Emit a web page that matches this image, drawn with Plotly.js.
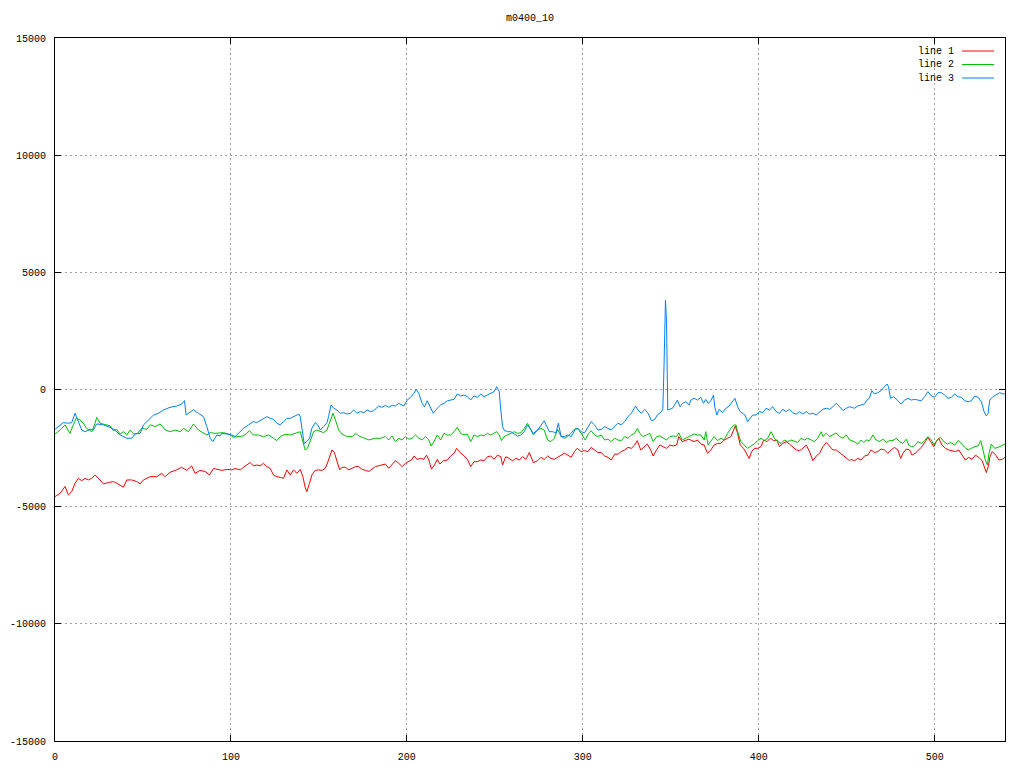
<!DOCTYPE html>
<html>
<head>
<meta charset="utf-8">
<script src="https://cdn.plot.ly/plotly-3.0.1.min.js"></script>
<style>html,body{margin:0;padding:0;background:#fff;}#chart{width:1024px;height:768px;}</style>
</head>
<body>
<div id="chart"></div>
<script>
const chartTitle = "m0400_10";
const seriesNames = ["line 1", "line 2", "line 3"];
const seriesColors = ["#ff0000", "#00c000", "#0080ff"];

const line1X = [0,2.9,5.7,7.6,9.5,11.4,13.3,15.2,17.1,19,20.9,22.8,25.6,27.5,30.4,33.2,35.1,37,38.9,40.8,43.6,46.5,48.4,50.3,54.1,57.8,60.7,62.6,65.4,69.2,72,74.9,77.7,79.6,82.5,85.4,87.8,90.1,92,94.8,97.7,100.5,102.4,105.3,107.1,109,110.9,112.8,114.7,116.6,118.5,120.4,122.3,124.2,126.1,128,129.9,131.8,133.7,135.6,137.5,139.4,140.9,142.2,143.1,144.7,146,147.9,149.8,151.7,153.6,155.5,157.4,158.8,160.3,161.8,163.2,165.1,167,168.9,170.8,172.7,174.6,176.5,178.4,182.1,185,187.8,189.7,191.6,193.5,195.4,197.3,199.2,201.1,203,204,205.9,207.8,209.7,211.2,212.5,214,215.7,217.3,218.8,220.7,223,224.9,226.8,228.3,230.2,232.1,234.4,236.3,238.2,240.1,242,243.9,245.8,247.7,249.6,251.5,253.4,254.4,256.2,258.1,260.1,262,263.9,265.8,267.7,269.6,271.9,274.3,276.2,278.1,280,281.9,283.8,285.7,287.7,289.6,291.5,293.4,295.3,296.8,299.1,301,302.9,304.8,306.7,308.6,310.5,312.4,314.3,316.2,318.1,320,321.9,323.8,325.7,327.6,329.5,331,332.9,334.8,336.7,338.6,340,341.9,343.8,345.7,347.6,349.5,351.4,353.3,354.6,356.5,358.4,360.3,363.3,365.2,367.1,369,370.9,372.8,374.7,376.6,378.5,380.4,382.3,384.2,385.7,386.7,388,389.5,391.4,393.3,394.6,396,397.5,399.4,401.3,402.8,404.7,406.6,408.5,410.4,411.8,413.7,415.6,417.5,419.4,421.3,423.2,425.1,427,428.9,430.8,432.7,434.6,436.5,438.4,440.3,442.2,444.1,446,447.9,449.8,451.7,452.5,454.4,456.3,458.2,460.1,462,463.9,465.8,467.7,469.6,471.5,473.4,475.3,477.2,479.1,480.7,482,483.9,485.8,487.1,489,490.9,492.8,494.7,496.2,497.7,499.6,500.9,502.3,504.2,506.1,508,509.9,511.8,513.7,515.6,517.5,519.4,521.3,523.2,525.1,527,528.2,529.4,530.5,531.5,532.8,534.7,536.6,538.5,540];
const line1Y = [-4570,-4430,-4140,-4500,-4360,-4000,-3790,-3890,-3790,-3860,-3790,-3650,-3860,-4030,-3970,-3930,-4000,-4070,-4170,-3860,-3860,-3930,-4030,-3860,-3720,-3720,-3580,-3720,-3530,-3430,-3320,-3450,-3260,-3580,-3450,-3500,-3650,-3370,-3410,-3450,-3410,-3430,-3370,-3430,-3320,-3220,-3120,-3260,-3220,-3260,-3150,-3290,-3370,-3650,-3720,-3750,-3790,-3430,-3650,-3430,-3580,-3410,-3720,-4170,-4360,-4000,-3650,-3450,-3430,-3450,-3370,-3010,-2580,-2690,-3080,-3430,-3320,-3320,-3430,-3370,-3290,-3290,-3410,-3450,-3500,-3290,-3220,-3180,-3360,-3180,-3040,-3150,-3290,-3150,-3080,-2980,-2840,-2980,-2940,-2980,-2800,-3010,-3400,-3220,-2980,-3180,-3040,-3010,-2840,-2720,-2510,-2690,-2800,-2980,-3290,-3080,-3080,-3010,-3040,-2870,-2840,-2980,-2800,-2870,-3220,-2870,-2940,-3040,-2940,-3010,-2870,-2980,-2690,-3120,-3040,-2895,-2980,-2840,-2940,-2980,-2895,-2800,-2720,-2800,-2895,-2650,-2510,-2650,-2610,-2650,-2470,-2580,-2690,-2690,-2840,-2895,-3010,-2760,-2760,-2650,-2580,-2470,-2510,-2370,-2180,-2580,-2440,-2330,-2580,-2840,-2580,-2370,-2440,-2510,-2370,-2410,-2370,-2010,-2225,-2180,-2120,-2225,-2155,-2330,-2370,-2720,-2580,-2370,-2300,-2300,-2155,-2080,-2010,-1730,-1560,-1870,-2370,-2510,-2795,-2940,-2650,-2510,-2510,-2440,-2155,-2225,-2080,-2180,-2155,-2440,-2300,-2225,-2330,-2440,-2580,-2610,-2510,-2370,-2650,-3040,-2840,-2720,-2440,-2260,-2440,-2580,-2580,-2690,-2800,-2895,-3040,-2980,-3040,-2940,-3010,-2840,-2800,-2580,-2690,-2650,-2540,-2580,-2720,-2580,-2470,-2580,-2940,-2720,-2540,-2580,-2800,-2720,-2580,-2440,-2225,-2040,-2225,-2440,-2225,-2080,-2370,-2510,-2580,-2610,-2650,-2580,-2800,-3010,-2895,-2980,-2800,-2895,-3040,-3290,-3545,-3290,-2840,-2650,-2800,-3010,-2980,-2895];

const line2X = [0,2.9,5.7,8.5,10.4,12,14.2,16.1,18,20.9,22.8,23.7,25.6,28.5,31.3,33.2,35.1,37,38.9,40.8,42.7,44.6,46.9,49.3,52.2,54.1,57,59.8,62.7,65.5,68.3,71.2,73,75.9,78.7,81.5,84.4,86.3,88.2,91,95.8,98.6,101.5,104.3,107.1,109,110.5,112.8,115.6,118.5,121.4,124.2,126.1,128,130.8,133.7,136.5,139.4,140.9,142.2,143.5,145.1,147,148.8,150.8,152.7,154.6,156.5,158,159.4,161.3,163.2,165.1,167,168.9,170.8,172.7,174.6,176.5,178.4,182.1,185,187.8,189.7,191.6,193.5,195.4,197.3,199.2,201.1,203,204.9,206.8,208.7,210.6,212.5,213.8,215.4,217.3,219.2,221.1,223,224.9,226.8,228.7,230.6,232.5,234.4,236.3,238.2,240.1,242,243.9,245.8,247.7,249.6,251.1,252.5,253.8,255.3,257.2,259.1,261,262.9,264.8,266.7,268.6,271.9,274.3,276.2,278.1,280,281.9,283.8,285.7,287.7,289.6,291.9,293.8,295.7,297.6,299.5,301.4,303.3,304.8,306.7,308.6,310.5,312.4,314.3,316.2,318.1,320,321.9,323.8,325.7,327.6,329.5,331,332.4,334.3,336.2,338.1,340,341.9,343.8,345.7,347.6,349.5,351.4,353.3,354.6,356.5,358.4,360.3,363.3,365.2,367.1,369,369.9,371.2,372.8,374.7,376.6,378.5,380.4,382.3,384.2,386.1,387.1,388,389.9,391.8,393.7,395.6,397.5,399.4,401.3,403.2,405.1,407,408.9,410.8,412.7,414.6,416.5,418.4,420.3,422.2,424.1,426,427.9,429.8,431.7,433.6,435.5,436.5,438.4,440.3,442.2,444.1,446,447.9,449.8,451.7,454.4,456.3,458.2,459.7,461.1,463,464.9,466.8,468.7,470.6,472.5,474.4,476.3,478.2,480.1,482,483.9,485.3,486.7,488.6,490.5,492.4,494.3,496.2,498.1,499.6,501.5,503.4,505.3,507.2,509.1,511.4,513.3,515.2,517.1,519,520.9,522.8,524.7,526.2,527.5,528.8,530,530.9,532.2,534.1,536,537.9,540];
const line2Y = [-1900,-1730,-1510,-1870,-1510,-1230,-1300,-1440,-1660,-1800,-1440,-1190,-1440,-1510,-1550,-1760,-1700,-1900,-1800,-1940,-1730,-1900,-1870,-1660,-1700,-1510,-1580,-1470,-1730,-1800,-1730,-1800,-1660,-1800,-1470,-1730,-1870,-1940,-1840,-1870,-1840,-1900,-2040,-2010,-1980,-1870,-1760,-1940,-1940,-2010,-1940,-2080,-2180,-2010,-1910,-1940,-1870,-1800,-2225,-2580,-2510,-2150,-1800,-1730,-1800,-1840,-1730,-1370,-1015,-1300,-1730,-1900,-1980,-2010,-2010,-1870,-1980,-2040,-2080,-2150,-2080,-2080,-2010,-2155,-1980,-2225,-2080,-2155,-2010,-2120,-2080,-1940,-2080,-2155,-2010,-2155,-2410,-2225,-1940,-2155,-1870,-1940,-1940,-1800,-1615,-1870,-1940,-1900,-2225,-1940,-2010,-1940,-1980,-1870,-1940,-1850,-1800,-1940,-2180,-2010,-1940,-1900,-1800,-1870,-1850,-1660,-1440,-1940,-1730,-1660,-1730,-2155,-2225,-2080,-1700,-2010,-2080,-1980,-1800,-1660,-1700,-1940,-2155,-1870,-1760,-1940,-2010,-1940,-2155,-2120,-2225,-2080,-2155,-2180,-2010,-2080,-1940,-1870,-1660,-1870,-2010,-1940,-1870,-2225,-2010,-1980,-2080,-2155,-2010,-1980,-2010,-1850,-2155,-2080,-2010,-1900,-1940,-1940,-2155,-1800,-2370,-2225,-2010,-2180,-2080,-2155,-1870,-1660,-1510,-1510,-1800,-2225,-2370,-2510,-2410,-2330,-2180,-2080,-2180,-2080,-1800,-2080,-2225,-2300,-2155,-2225,-2155,-2225,-2260,-2080,-2155,-2080,-2155,-2225,-2080,-1800,-2010,-1870,-2010,-1940,-1850,-2010,-2080,-1940,-2155,-2225,-2330,-2155,-2260,-2155,-2180,-1940,-2155,-2225,-2120,-2260,-2180,-2180,-2080,-2225,-2300,-2120,-2370,-2440,-2410,-2225,-2300,-2180,-2010,-2155,-2370,-2155,-2040,-2225,-2330,-2260,-2370,-2180,-2300,-2470,-2580,-2510,-2440,-2410,-2180,-2580,-3010,-3220,-2720,-2330,-2510,-2470,-2410,-2330];

const line3X = [0,4.7,7.6,9.5,11.4,13.3,15.2,17.1,20,21.8,23.7,27.5,31.3,34.1,37,40.8,43.6,45.5,48.4,50.3,53.1,56,58.8,61.7,65.4,69.2,72,73.6,74.5,76.8,78.7,81.5,84.4,86.3,88.2,89.7,92,93.9,94.8,97.7,100.5,102.4,104.3,107.1,110,112.8,114.7,116.6,118.5,120.4,122.3,124.2,126.1,128,129.9,131.8,133.7,135.6,137.1,138.6,139.4,140.3,141.6,143.1,144.7,146,147.9,149.3,150.8,152.7,154.6,155.5,156.9,158.4,160.3,162.2,164.1,166,167.9,169.8,171.7,173.6,175.5,177.4,179.3,181.2,182.1,184,185.9,187.8,189.7,191.6,193.5,195.4,198.3,200.2,202.1,204,205.3,206.8,208.7,210,211.6,213.1,215,217.3,219.2,221.1,223,224.9,226.8,228.7,230.6,232.5,234.4,236.3,238.2,240.1,242,243.9,245.8,247.7,249.6,251.1,252.5,253.4,254.4,255.3,257.2,259.1,261,262.9,264.8,266.7,268.6,270.5,271.9,274.3,276.2,278.1,279.1,281,282.9,284.8,286.1,287.7,289.6,291.5,293.4,295.7,297.2,299.1,301,302.9,304.8,306.7,308.6,310.5,312.4,314.3,316.2,318.1,320,321.9,323.8,325.7,327.6,330,331.4,333.3,335.2,337.1,339,340.6,342.4,344.7,345.5,346.2,347,347.6,348.3,351,352.9,353.8,355.3,356.7,358.6,360.5,361.4,363.3,365.2,367.1,368.6,369.9,371.2,372.8,374.3,375,376.2,377.5,379.4,381.3,383.2,385.1,386.5,388,389.5,390.8,392.2,393.7,395.2,396.6,398.5,400.4,402.3,404.2,406.1,408,409.9,411.8,413.7,415.6,417.5,419.4,421.3,423.2,425.1,427,428.9,430.8,432.7,434.6,436.5,438.4,440.3,442.2,444.1,446,447.9,449.8,451.7,454.4,456.3,458.2,460.1,461.6,462.9,464.3,465.8,467.7,469.6,471.5,473,473.8,474.9,476.8,478.7,481,482.9,484.8,486.7,488.6,490.5,492.4,494.3,496.2,498.1,500,501.9,503.8,505.7,507.6,509.5,511.4,513.3,515.2,517.1,519,520.9,522.8,524.7,526.6,528.1,529.4,530.4,531.3,533.2,535.1,537,538.9,540];
const line3Y = [-1700,-1415,-1440,-1415,-1015,-1370,-1730,-1800,-1700,-1730,-1470,-1510,-1615,-1730,-1940,-2080,-2080,-1900,-1870,-1510,-1300,-1090,-1015,-875,-760,-705,-620,-475,-1090,-945,-860,-1015,-1160,-1585,-2080,-2225,-1940,-1980,-1870,-1900,-1940,-2010,-1870,-1660,-1510,-1370,-1415,-1330,-1270,-1160,-1230,-1270,-1440,-1510,-1370,-1230,-1230,-1160,-1090,-1050,-1160,-1730,-2300,-2225,-2080,-1660,-1415,-1510,-1730,-1580,-1415,-1160,-660,-800,-875,-1015,-990,-1050,-1015,-875,-1015,-945,-990,-875,-945,-900,-845,-705,-760,-675,-760,-675,-705,-590,-705,-450,-335,-165,10,-165,-590,-735,-480,-735,-1015,-800,-660,-590,-480,-450,-420,-190,-275,-235,-305,-450,-275,-335,-190,-305,-235,-190,-90,120,-90,-875,-1585,-1730,-1800,-1800,-1900,-1990,-1940,-1800,-1510,-1730,-1870,-1730,-1510,-1330,-1510,-1800,-1800,-1850,-1440,-2010,-2010,-1940,-2010,-1700,-1660,-1800,-1850,-1585,-1370,-1510,-1730,-1700,-1585,-1660,-1730,-1585,-1440,-1510,-1370,-1160,-1015,-705,-875,-1015,-845,-1015,-1330,-1300,-1090,-945,-845,1045,3818,2900,-875,-800,-590,-450,-735,-590,-520,-660,-450,-375,-450,-335,-590,-420,-590,-480,-235,-735,-1090,-845,-990,-800,-705,-520,-375,-735,-945,-1015,-1090,-1370,-1230,-1090,-1090,-945,-990,-800,-875,-735,-945,-1015,-845,-945,-845,-990,-1050,-945,-1050,-945,-1050,-1015,-1090,-945,-845,-800,-845,-735,-590,-735,-900,-800,-735,-800,-705,-660,-620,-450,-375,-50,-190,-135,-50,120,235,120,-375,-305,-450,-620,-450,-375,-450,-420,-450,-480,-305,-90,-275,-335,-135,-135,-235,-375,-335,-190,-305,-335,-480,-520,-480,-275,-335,-520,-945,-1130,-1015,-450,-305,-235,-135,-190,-190];

const xTicks = [0, 100, 200, 300, 400, 500];
const yTicks = [-15000, -10000, -5000, 0, 5000, 10000, 15000];
const xRange = [0, 540];
const yRange = [-15000, 15000];

const allX = [line1X, line2X, line3X];
const allY = [line1Y, line2Y, line3Y];

const FONT = "Liberation Mono, DejaVu Sans Mono, monospace";

const traces = seriesNames.map((name, i) => ({
  type: "scatter",
  mode: "lines",
  name: name,
  x: allX[i],
  y: allY[i],
  line: {color: seriesColors[i], width: 1},
  hoverinfo: "skip",
  showlegend: false
}));

// gnuplot-style key: text right-aligned, sample line to its right
const M = {l: 55, r: 19, t: 38, b: 27};
const plotW = 1024 - M.l - M.r, plotH = 768 - M.t - M.b;
const keyRowsPx = [51, 64.5, 78];
const annotations = [];
const shapes = [];
seriesNames.forEach((name, i) => {
  const yp = 1 - (keyRowsPx[i] - M.t) / plotH;
  annotations.push({
    xref: "paper", yref: "paper",
    x: (956 - M.l) / plotW, y: yp,
    xanchor: "right", yanchor: "middle",
    text: name, showarrow: false,
    font: {family: FONT, size: 10, color: "#000"}
  });
  shapes.push({
    type: "line", xref: "paper", yref: "paper",
    x0: (962 - M.l) / plotW, x1: (994 - M.l) / plotW, y0: yp, y1: yp,
    line: {color: seriesColors[i], width: 1}
  });
});

const axisCommon = {
  showline: true, linecolor: "#000", linewidth: 1, mirror: "ticks",
  ticks: "inside", ticklen: 6, tickcolor: "#000", tickwidth: 1,
  showgrid: true, gridcolor: "#a0a0a0", griddash: "2px,3px", gridwidth: 1,
  zeroline: false,
  tickfont: {family: FONT, size: 10, color: "#000"},
  tickmode: "array", fixedrange: true
};

const layout = {
  width: 1024, height: 768,
  margin: M,
  paper_bgcolor: "#fff", plot_bgcolor: "#fff",
  title: {text: chartTitle, x: 0.5175, xanchor: "center", y: 0.977, yanchor: "middle",
          font: {family: FONT, size: 10, color: "#000"}},
  showlegend: false,
  xaxis: Object.assign({}, axisCommon, {range: xRange, tickvals: xTicks, ticktext: xTicks.map(String), ticklabelstandoff: 6}),
  yaxis: Object.assign({}, axisCommon, {range: yRange, tickvals: yTicks, ticktext: yTicks.map(String), ticklabelstandoff: 6}),
  annotations: annotations,
  shapes: shapes
};

Plotly.newPlot("chart", traces, layout, {staticPlot: true, displayModeBar: false});
</script>
</body>
</html>
